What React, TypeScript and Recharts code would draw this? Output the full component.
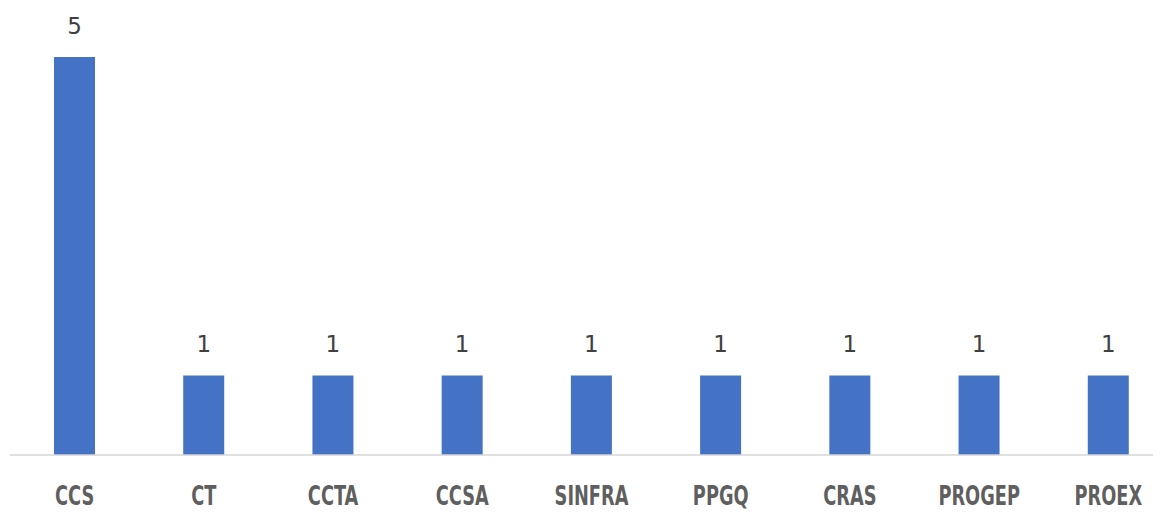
import React from "react";
import { BarChart, Bar, XAxis, YAxis, LabelList } from "recharts";

const categories = ["CCS", "CT", "CCTA", "CCSA", "SINFRA", "PPGQ", "CRAS", "PROGEP", "PROEX"];
const values = [5, 1, 1, 1, 1, 1, 1, 1, 1];

const data = categories.map((name, i) => ({ name, value: values[i] }));

const Tick = (props: any) => {
  const { x, y, payload } = props;
  return (
    <g transform={`translate(${x},${y})`}>
      <text
        x={0}
        y={0}
        dy={42}
        textAnchor="middle"
        fill="#5f5f5f"
        fontFamily="'Liberation Sans Narrow', 'DejaVu Sans Condensed', 'Liberation Sans'"
        fontWeight={600}
        fontSize={26}
        transform="scale(0.76,1)"
      >
        {payload.value}
      </text>
    </g>
  );
};

export default function App() {
  return (
    <div style={{ marginLeft: -8, marginTop: -8, background: "#fff", width: 1161, height: 512 }}>
      <BarChart
        width={1161}
        height={512}
        data={data}
        margin={{ top: 57, right: -12, left: 10, bottom: 0 }}
      >
        <XAxis
          dataKey="name"
          axisLine={{ stroke: "#d6d6d6", strokeWidth: 1.5 }}
          tickLine={false}
          tick={<Tick />}
          height={57}
          interval={0}
        />
        <YAxis hide domain={[0, 5]} />
        <Bar dataKey="value" fill="#4472C4" barSize={41} isAnimationActive={false}>
          <LabelList
            dataKey="value"
            position="top"
            offset={23}
            fill="#404040"
            fontFamily="'DejaVu Sans'"
            fontSize={23}
          />
        </Bar>
      </BarChart>
    </div>
  );
}
